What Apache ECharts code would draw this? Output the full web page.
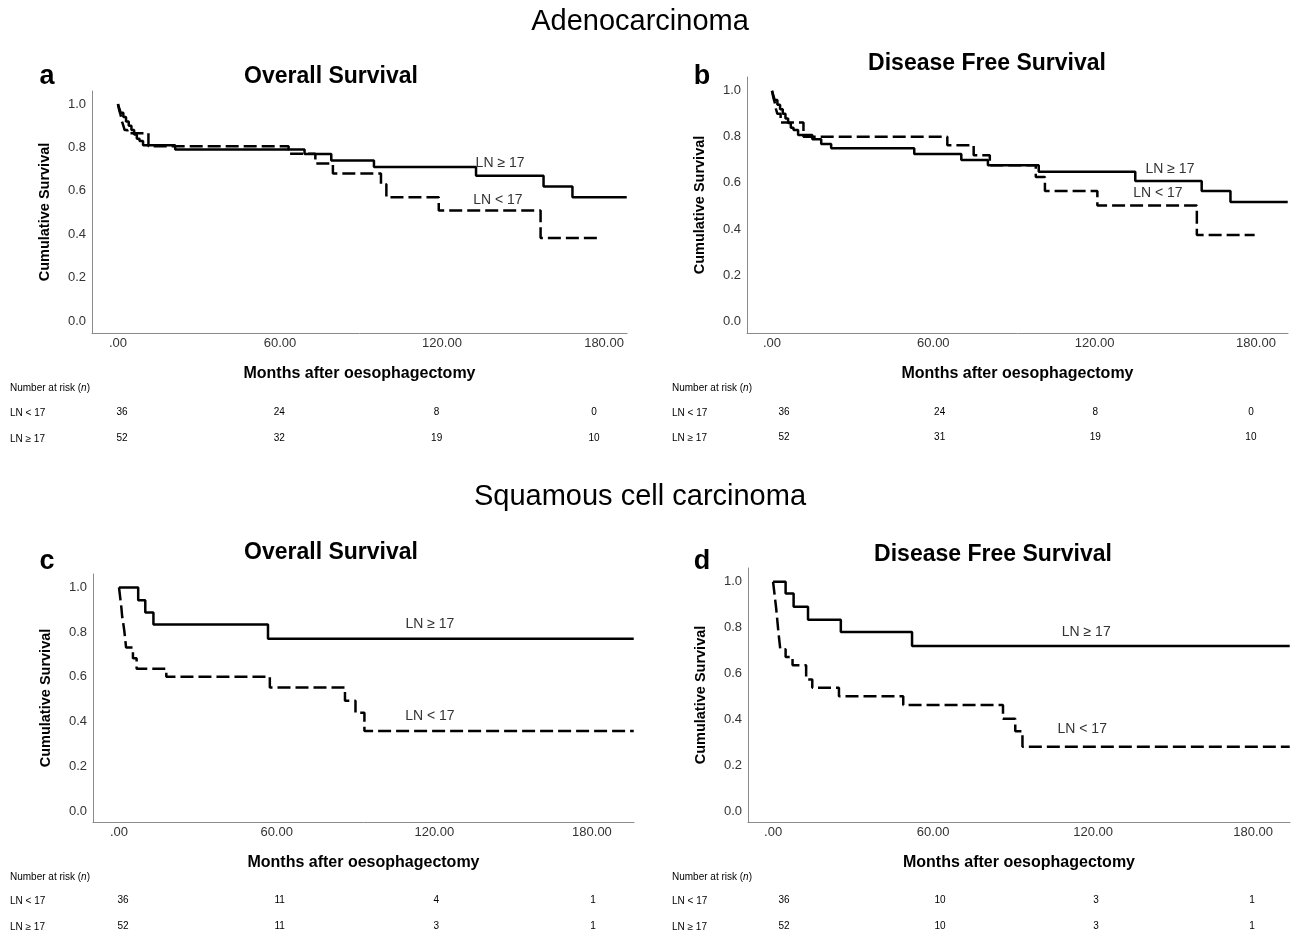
<!DOCTYPE html>
<html>
<head>
<meta charset="utf-8">
<script src="https://cdn.jsdelivr.net/npm/echarts@6/dist/echarts.min.js"></script>
<style>
html,body{margin:0;padding:0;background:#fff;}
#chart{width:1296px;height:936px;}
</style>
</head>
<body>
<div id="chart"></div>
<script>
// ---------- DATA ----------
const xTicks = [0, 60, 120, 180];
const yTicks = [0, 0.2, 0.4, 0.6, 0.8, 1.0];
const riskTimes = [0, 60, 120, 180];
const groupLabels = ['LN < 17', 'LN \u2265 17'];
const sectionTitles = ['Adenocarcinoma', 'Squamous cell carcinoma'];
const panelTitles = ['Overall Survival', 'Disease Free Survival', 'Overall Survival', 'Disease Free Survival'];
const panelLetters = ['a', 'b', 'c', 'd'];

// Panel a: Adenocarcinoma, overall survival
const aTimeHi = [0, 0.5, 1, 2, 3, 4, 5, 6, 7, 8, 9.3, 21.2, 69.1, 79, 94.8, 132.6, 157.6, 168.3, 188.4];
const aSurvHi = [1.0, 0.98, 0.96, 0.94, 0.92, 0.90, 0.88, 0.86, 0.84, 0.83, 0.81, 0.79, 0.77, 0.74, 0.71, 0.67, 0.62, 0.57, 0.57];
const aTimeLo = [0, 0.5, 1, 1.5, 2, 2.5, 3.5, 11.3, 63.2, 73.1, 79.6, 97.4, 99.4, 118.8, 156.5, 178.2];
const aSurvLo = [1.0, 0.97, 0.95, 0.92, 0.90, 0.88, 0.865, 0.806, 0.771, 0.726, 0.68, 0.63, 0.57, 0.509, 0.383, 0.383];

// Panel b: Adenocarcinoma, disease free survival
const bTimeHi = [0, 0.5, 1, 2, 3, 4, 5, 6, 7, 8, 9.7, 15, 18.3, 22, 52.9, 70.4, 80.3, 99.2, 135.1, 159.8, 170.5, 191.8];
const bSurvHi = [1.0, 0.98, 0.96, 0.94, 0.92, 0.90, 0.88, 0.86, 0.84, 0.83, 0.808, 0.79, 0.769, 0.75, 0.725, 0.70, 0.677, 0.648, 0.608, 0.565, 0.517, 0.517];
const bTimeLo = [0, 0.5, 1, 1.5, 2, 3.2, 11.7, 65.2, 75, 81, 98.1, 101.5, 121, 158, 179.5];
const bSurvLo = [1.0, 0.97, 0.95, 0.92, 0.90, 0.862, 0.80, 0.764, 0.72, 0.677, 0.626, 0.565, 0.502, 0.374, 0.374];

// Panel c: Squamous cell carcinoma, overall survival
const cTimeHi = [0, 7.3, 10, 13.1, 56.7, 195.9];
const cSurvHi = [1.0, 0.943, 0.888, 0.834, 0.77, 0.77];
const cTimeLo = [0, 0.3, 0.6, 0.9, 1.2, 1.6, 2.0, 2.7, 5.3, 6.7, 18, 57.4, 86, 90, 93.4, 195.9];
const cSurvLo = [1.0, 0.97, 0.94, 0.91, 0.87, 0.84, 0.807, 0.731, 0.683, 0.636, 0.601, 0.552, 0.493, 0.439, 0.358, 0.358];

// Panel d: Squamous cell carcinoma, disease free survival
const dTimeHi = [0, 4.7, 7.7, 13.1, 25.4, 52.1, 193.7];
const dSurvHi = [1.0, 0.949, 0.891, 0.834, 0.781, 0.72, 0.72];
const dTimeLo = [0, 0.4, 0.8, 1.2, 1.6, 2.0, 2.7, 4.7, 7.3, 12.4, 14.7, 24.7, 48.8, 86.2, 90.8, 93.5, 193.7];
const dSurvLo = [1.0, 0.96, 0.92, 0.88, 0.83, 0.78, 0.706, 0.672, 0.636, 0.574, 0.538, 0.501, 0.462, 0.402, 0.348, 0.28, 0.28];

// Numbers at risk
const riskALo = [36, 24, 8, 0];
const riskAHi = [52, 32, 19, 10];
const riskBLo = [36, 24, 8, 0];
const riskBHi = [52, 31, 19, 10];
const riskCLo = [36, 11, 4, 1];
const riskCHi = [52, 11, 3, 1];
const riskDLo = [36, 10, 3, 1];
const riskDHi = [52, 10, 3, 1];

// ---------- LAYOUT ----------
const FONT = '"Liberation Sans", Arial, sans-serif';
const panels = [
  { grid: {left: 92, top: 91, width: 535, height: 242}, xMin: -9.6, xMax: 188.5, yMin: -0.055, yMax: 1.06,
    rMin: -11.44, rMax: 192.6, rOff: [74, 100],
    hi: [aTimeHi, aSurvHi], lo: [aTimeLo, aSurvLo], risk: [riskALo, riskAHi],
    lblHi: [141.5, 0.728], lblLo: [140.7, 0.558] },
  { grid: {left: 747, top: 77, width: 541, height: 256}, xMin: -9.3, xMax: 191.9, yMin: -0.052, yMax: 1.06,
    rMin: -14.26, rMax: 194.3, rOff: [74, 99],
    hi: [bTimeHi, bSurvHi], lo: [bTimeLo, bSurvLo], risk: [riskBLo, riskBHi],
    lblHi: [148, 0.661], lblLo: [143.5, 0.557] },
  { grid: {left: 93, top: 574, width: 541, height: 248}, xMin: -9.9, xMax: 196, yMin: -0.049, yMax: 1.06,
    rMin: -11.49, rMax: 195.7, rOff: [73, 99],
    hi: [cTimeHi, cSurvHi], lo: [cTimeLo, cSurvLo], risk: [riskCLo, riskCHi],
    lblHi: [118.3, 0.835], lblLo: [118.3, 0.424] },
  { grid: {left: 748, top: 568, width: 542, height: 254}, xMin: -9.4, xMax: 193.8, yMin: -0.048, yMax: 1.06,
    rMin: -13.85, rMax: 194.6, rOff: [73, 99],
    hi: [dTimeHi, dSurvHi], lo: [dTimeLo, dSurvLo], risk: [riskDLo, riskDHi],
    lblHi: [117.4, 0.782], lblLo: [115.9, 0.358] }
];

const grids = [], xAxes = [], yAxes = [], series = [];
function zip(t, s) { return t.map((v, i) => [v, s[i]]); }

panels.forEach((p, i) => {
  grids.push(Object.assign({containLabel: false}, p.grid));
  xAxes.push({
    type: 'value', gridIndex: i, min: p.xMin, max: p.xMax,
    name: 'Months after oesophagectomy', nameLocation: 'middle', nameGap: 33,
    nameTextStyle: {fontFamily: FONT, fontSize: 16, fontWeight: 'bold', color: '#000'},
    axisLine: {show: true, onZero: false, lineStyle: {color: '#8a8a8a', width: 1}},
    axisTick: {show: false},
    splitLine: {show: false},
    axisLabel: {customValues: xTicks, margin: 4, fontFamily: FONT, fontSize: 13, color: '#333',
      formatter: v => (v === 0 ? '.00' : v.toFixed(2))}
  });
  yAxes.push({
    type: 'value', gridIndex: i, min: p.yMin, max: p.yMax,
    name: 'Cumulative Survival', nameLocation: 'middle', nameGap: 40,
    nameTextStyle: {fontFamily: FONT, fontSize: 14.5, fontWeight: 'bold', color: '#000'},
    axisLine: {show: true, onZero: false, lineStyle: {color: '#8a8a8a', width: 1}},
    axisTick: {show: false},
    splitLine: {show: false},
    axisLabel: {customValues: yTicks, margin: 6, fontFamily: FONT, fontSize: 13, color: '#333',
      formatter: v => v.toFixed(1)}
  });
});
// risk-table axes (two rows per panel)
panels.forEach((p, i) => {
  [0, 1].forEach(r => {
    const row = p.risk[r];
    xAxes.push({
      type: 'value', gridIndex: i, min: p.rMin, max: p.rMax, position: 'bottom', offset: p.rOff[r],
      axisLine: {show: false, onZero: false}, axisTick: {show: false}, splitLine: {show: false},
      axisLabel: {customValues: riskTimes, margin: 0, fontFamily: FONT, fontSize: 10, color: '#000',
        formatter: v => String(row[riskTimes.indexOf(v)])}
    });
  });
});

panels.forEach((p, i) => {
  const common = {type: 'line', step: 'end', symbol: 'none', xAxisIndex: i, yAxisIndex: i, animation: false, z: 3};
  series.push(Object.assign({}, common, {
    name: panelLetters[i] + groupLabels[1],
    data: zip(p.hi[0], p.hi[1]),
    lineStyle: {color: '#000', width: 2.5, type: 'solid'},
    markPoint: {symbol: 'rect', symbolSize: 0, silent: true, animation: false,
      label: {show: true, position: 'inside', fontFamily: FONT, fontSize: 14, color: '#333', formatter: groupLabels[1]},
      data: [{coord: p.lblHi}]}
  }));
  series.push(Object.assign({}, common, {
    name: panelLetters[i] + groupLabels[0],
    data: zip(p.lo[0], p.lo[1]),
    lineStyle: {color: '#000', width: 2.5, type: [13, 5]},
    markPoint: {symbol: 'rect', symbolSize: 0, silent: true, animation: false,
      label: {show: true, position: 'inside', fontFamily: FONT, fontSize: 14, color: '#333', formatter: groupLabels[0]},
      data: [{coord: p.lblLo}]}
  }));
});

// ---------- TEXT GRAPHICS ----------
const graphic = [];
function txt(x, y, text, style) {
  graphic.push({type: 'text', x: x, y: y, silent: true,
    style: Object.assign({text: text, fontFamily: FONT, fill: '#000', textVerticalAlign: 'middle'}, style)});
}
txt(640, 22, sectionTitles[0], {fontSize: 29, textAlign: 'center'});
txt(640, 497, sectionTitles[1], {fontSize: 29, textAlign: 'center'});
const titlePos = [[331, 77], [987, 64], [331, 553], [993, 555]];
const letterPos = [[47, 77], [702, 77], [47, 562], [702, 562]];
panelTitles.forEach((t, i) => {
  txt(titlePos[i][0], titlePos[i][1], t, {fontSize: 23, fontWeight: 'bold', textAlign: 'center'});
  txt(letterPos[i][0], letterPos[i][1], panelLetters[i], {fontSize: 27, fontWeight: 'bold', textAlign: 'center'});
});
const riskLeft = [[10, 388, 413, 439], [672, 388, 413, 438], [10, 877, 901, 927], [672, 877, 901, 927]];
riskLeft.forEach(r => {
  graphic.push({type: 'text', x: r[0], y: r[1], silent: true,
    style: {text: '{a|Number at risk (}{b|n}{a|)}', textVerticalAlign: 'middle',
      rich: {a: {fontFamily: FONT, fontSize: 10, fill: '#000'}, b: {fontFamily: FONT, fontSize: 10, fontStyle: 'italic', fill: '#000'}}}});
  txt(r[0], r[2], groupLabels[0], {fontSize: 10});
  txt(r[0], r[3], groupLabels[1], {fontSize: 10});
});

const chart = echarts.init(document.getElementById('chart'), null, {renderer: 'canvas'});
chart.setOption({
  backgroundColor: '#fff',
  animation: false,
  grid: grids,
  xAxis: xAxes,
  yAxis: yAxes,
  series: series,
  graphic: graphic
});
</script>
</body>
</html>
